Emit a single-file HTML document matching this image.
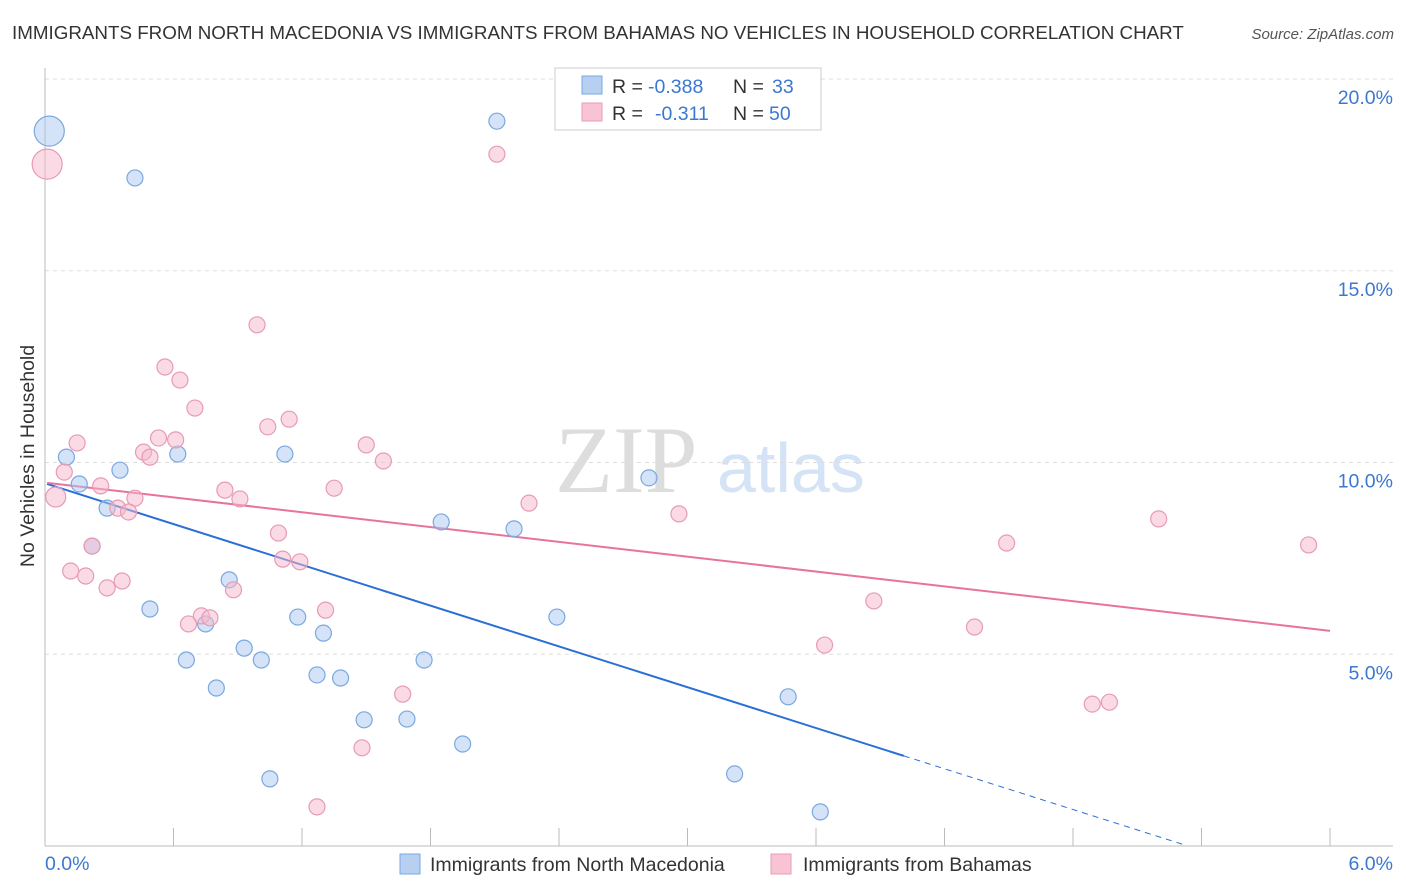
<!DOCTYPE html>
<html><head><meta charset="utf-8"><style>
body{margin:0;background:#fff;font-family:"Liberation Sans",sans-serif;}
#w{position:relative;width:1406px;height:892px;overflow:hidden;}
</style></head><body>
<div id="w">
<svg id="s" width="1406" height="892" xmlns="http://www.w3.org/2000/svg">
<text x="12" y="39" font-size="18.8" fill="#333">IMMIGRANTS FROM NORTH MACEDONIA VS IMMIGRANTS FROM BAHAMAS NO VEHICLES IN HOUSEHOLD CORRELATION CHART</text>
<text x="1394" y="39" font-size="15" fill="#555" font-style="italic" text-anchor="end">Source: ZipAtlas.com</text>
<text x="555" y="492" font-size="95" fill="#ddd" font-family="Liberation Serif,serif">ZIP</text>
<text x="717" y="492" font-size="70" fill="#d4e3f5">atlas</text>
<text transform="translate(34,456) rotate(-90)" font-size="19.5" fill="#333" text-anchor="middle">No Vehicles in Household</text>
<g id="grid"></g><g id="axes"></g><g id="lines"></g><g id="pts"></g>
<g>
<rect x="555" y="68" width="266" height="62" fill="#fff" stroke="#ccc"/>
<rect x="582" y="76" width="20" height="18" fill="#b7d0f2" stroke="#7aa8e0"/>
<rect x="582" y="103" width="20" height="18" fill="#f8c4d4" stroke="#e89ab4"/>
<g font-size="19.5" fill="#333">
<text x="612" y="93">R =</text>
<text x="648" y="93" fill="#3b78d0">-0.388</text>
<text x="733" y="93">N =</text>
<text x="772" y="93" fill="#3b78d0">33</text>
<text x="612" y="120">R =</text>
<text x="655" y="120" fill="#3b78d0">-0.311</text>
<text x="733" y="120">N =</text>
<text x="769" y="120" fill="#3b78d0">50</text>
</g>
</g>
<g>
<rect x="400" y="854" width="20" height="20" fill="#b7d0f2" stroke="#7aa8e0"/>
<text x="430" y="871" font-size="19.5" fill="#333">Immigrants from North Macedonia</text>
<rect x="771" y="854" width="20" height="20" fill="#f8c4d4" stroke="#e89ab4"/>
<text x="803" y="871" font-size="19.5" fill="#333">Immigrants from Bahamas</text>
</g>
</svg>
</div>
<script>
const blueX=[0.02,0.42,2.11,0.10,0.16,0.35,0.29,0.22,0.62,1.12,0.49,0.86,0.75,0.66,0.80,0.93,1.01,1.18,1.30,1.27,1.38,1.49,1.69,1.77,1.85,1.95,2.19,2.39,2.82,1.05,3.22,3.47,3.62];
const blueY=[18.64,17.42,18.90,10.14,9.44,9.80,8.81,7.82,10.22,10.22,6.18,6.94,5.79,4.85,4.12,5.16,4.85,5.97,5.55,4.46,4.38,3.29,3.31,4.85,8.45,2.66,8.27,5.97,9.60,1.75,1.88,3.89,0.89];
const pinkX=[0.01,2.11,0.99,0.56,0.63,0.70,1.14,1.04,0.15,0.53,0.61,0.46,0.49,0.09,1.50,1.58,0.26,0.05,0.42,0.84,0.91,1.35,2.26,2.96,0.34,0.39,1.09,0.22,0.12,0.19,0.36,0.29,0.88,1.11,1.19,0.73,0.77,0.67,1.31,1.67,1.48,1.27,3.87,3.64,4.34,4.49,5.20,5.90,4.89,4.97];
const pinkY=[17.78,18.04,13.59,12.49,12.15,11.42,11.13,10.93,10.51,10.64,10.59,10.27,10.14,9.75,10.46,10.04,9.39,9.10,9.07,9.28,9.05,9.33,8.94,8.66,8.81,8.71,8.16,7.82,7.17,7.04,6.91,6.73,6.68,7.48,7.41,6.00,5.95,5.79,6.15,3.96,2.56,1.02,6.39,5.24,5.71,7.90,8.53,7.85,3.70,3.75];
const blueBig=[0];const pinkBig=[0];const pinkMid=[17];
const blueTrend=[0.01,9.44,4.01,2.35,5.32,0.03];
const pinkTrend=[0.01,9.47,6.0,5.61];
const yTicks=[5,10,15,20];const yTickLabels=["5.0%","10.0%","15.0%","20.0%"];
const xTicks=[0,0.6,1.2,1.8,2.4,3.0,3.6,4.2,4.8,5.4,6.0];
const NS="http://www.w3.org/2000/svg";
const sx=v=>45+v*214.17, sy=v=>846-v*38.35;
function mk(p,t,a){const e=document.createElementNS(NS,t);for(const k in a)e.setAttribute(k,a[k]);document.getElementById(p).appendChild(e);return e;}
yTicks.forEach((t,i)=>{const g=mk('grid','line',{x1:45,x2:1393,y1:sy(t),y2:sy(t),stroke:'#ddd','stroke-dasharray':'4,4'});


const l=mk('grid','text',{x:1393,y:sy(t)+25,'font-size':19.5,fill:'#3b78d0','text-anchor':'end'});l.textContent=yTickLabels[i];

});
const ax=mk('axes','line',{x1:45,x2:45,y1:68,y2:846,stroke:'#bbb'});


const bx=mk('axes','line',{x1:45,x2:1393,y1:846,y2:846,stroke:'#bbb'});


xTicks.forEach(t=>{const e=mk('axes','line',{x1:sx(t),x2:sx(t),y1:828,y2:846,stroke:'#bbb'});

});
const x0=mk('axes','text',{x:45,y:870,'font-size':19.5,fill:'#3b78d0'});x0.textContent='0.0%';


const x1=mk('axes','text',{x:1393,y:870,'font-size':19.5,fill:'#3b78d0','text-anchor':'end'});x1.textContent='6.0%';


function pts(X,Y,big,mid,f,s,name){X.forEach((x,i)=>{const c=mk('pts','circle',{cx:sx(x),cy:sy(Y[i]),r:big.includes(i)?15:(mid.includes(i)?10:8),fill:f,'fill-opacity':0.5,stroke:s,'stroke-width':1.2});

});}
pts(blueX,blueY,blueBig,[],'#a9c8f0','#7aa8e0','point-north-macedonia');
pts(pinkX,pinkY,pinkBig,pinkMid,'#f5b8cb','#e89ab4','point-bahamas');
const l1=mk('lines','line',{x1:sx(blueTrend[0]),y1:sy(blueTrend[1]),x2:sx(blueTrend[2]),y2:sy(blueTrend[3]),stroke:'#2a6fd6','stroke-width':2});


const l2=mk('lines','line',{x1:sx(blueTrend[2]),y1:sy(blueTrend[3]),x2:sx(blueTrend[4]),y2:sy(blueTrend[5]),stroke:'#2a6fd6','stroke-width':1,'stroke-dasharray':'6,5'});


const l3=mk('lines','line',{x1:sx(pinkTrend[0]),y1:sy(pinkTrend[1]),x2:sx(pinkTrend[2]),y2:sy(pinkTrend[3]),stroke:'#e8739b','stroke-width':2});


</script>
</body></html>
